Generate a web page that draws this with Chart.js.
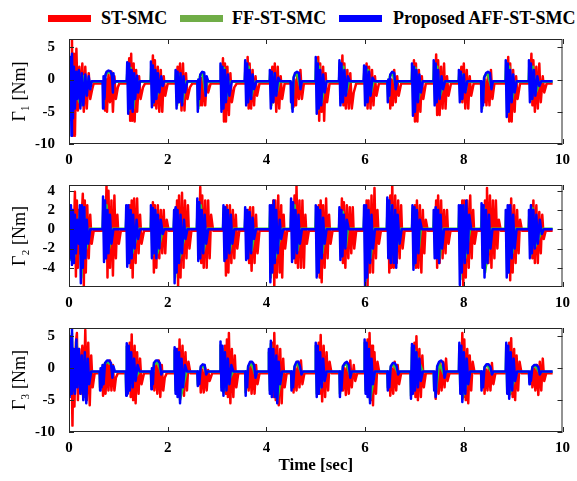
<!DOCTYPE html>
<html>
<head>
<meta charset="utf-8">
<script src="https://cdn.jsdelivr.net/npm/chart.js@4.4.1/dist/chart.umd.min.js"></script>
<style>
  body { margin: 0; background: #fff; }
  #wrap { position: relative; width: 577px; height: 481px; overflow: hidden; font-family: "Liberation Serif", "Times New Roman", serif; }
  #wrap canvas { position: absolute; left: 0; top: 0; }
  .key { position: absolute; top: 15px; width: 43px; height: 7px; }
  .lab { position: absolute; top: 7px; font-weight: bold; font-size: 18px; line-height: 22px; white-space: nowrap; color: #000; }
</style>
</head>
<body>
<div id="wrap">
  <span class="key" style="left:48px;background:#ff0000"></span><span class="lab" style="left:101px">ST-SMC</span>
  <span class="key" style="left:180px;background:#70ad47"></span><span class="lab" style="left:232px">FF-ST-SMC</span>
  <span class="key" style="left:339px;background:#0000ff"></span><span class="lab" style="left:393px">Proposed AFF-ST-SMC</span>
  <canvas id="c1" width="577" height="481"></canvas>
  <canvas id="c2" width="577" height="481"></canvas>
  <canvas id="c3" width="577" height="481"></canvas>
</div>
<script>
// tick labels
const timeTicks = [0, 2, 4, 6, 8, 10];
const g1Ticks = [-10, -5, 0, 5];
const g2Ticks = [-4, -2, 0, 2, 4];
const g3Ticks = [-10, -5, 0, 5];

// [time sec, torque Nm]
const p1Blue = [[0,-0.3],[0.01,2.5],[0.02,-4],[0.03,3.5],[0.05,-8.7],[0.06,4],[0.08,-6],[0.1,2],[0.12,-4.5],[0.15,1.2],[0.17,-3],[0.2,1.5],[0.23,-4.5],[0.26,1],[0.29,-4],[0.33,0.8],[0.36,-2.5],[0.4,0.5],[0.43,-1.5],[0.46,-0.25],
[0.68,-0.25],[0.69,-4.5],[0.7,0.5],[0.72,-3],[0.74,0.8],[0.76,1.2],[0.8,1.4],[0.84,1.3],[0.87,0.6],[0.89,-2],[0.9,1],[0.92,-0.5],[0.95,-0.25],
[1.17,-0.25],[1.18,2.7],[1.2,-5.3],[1.22,2.5],[1.24,-4.5],[1.27,1.5],[1.29,-5],[1.32,1],[1.34,-3],[1.38,0.6],[1.4,-2],[1.44,-0.25],
[1.65,-0.25],[1.66,2.8],[1.68,-4.3],[1.7,2.2],[1.72,-3.5],[1.75,1.5],[1.77,-3],[1.8,1],[1.83,-2],[1.87,0.5],[1.9,-1],[1.93,-0.25],
[2.15,-0.25],[2.16,1.5],[2.18,-4.5],[2.2,1.2],[2.23,-3.5],[2.26,1],[2.29,-4],[2.32,0.5],[2.35,-2],[2.4,-0.25],
[2.6,-0.25],[2.61,-5],[2.62,0],[2.64,-3],[2.66,0.8],[2.7,1.2],[2.74,1.1],[2.77,-2.5],[2.79,0.5],[2.82,-0.25],
[3.06,-0.25],[3.07,2.5],[3.09,-5],[3.11,2],[3.13,-4.5],[3.16,1.5],[3.18,-3.5],[3.22,0.8],[3.25,-2.5],[3.3,-0.25],
[3.56,-0.25],[3.57,3],[3.59,-4],[3.61,2.5],[3.63,-3.5],[3.66,1.5],[3.69,-3],[3.72,0.8],[3.75,-1.5],[3.8,-0.25],
[4.06,-0.25],[4.07,1.5],[4.09,-4.5],[4.11,1.2],[4.14,-3.5],[4.17,1],[4.2,-2.5],[4.24,0.3],[4.28,-0.25],
[4.49,-0.25],[4.5,-3.5],[4.51,-0.5],[4.53,-5],[4.55,0.3],[4.58,1],[4.62,1.2],[4.66,1],[4.69,-1.5],[4.72,-0.25],
[4.99,-0.25],[5.0,3.5],[5.02,-5.3],[5.04,2.5],[5.06,-4.5],[5.09,1.5],[5.11,-4],[5.15,0.8],[5.18,-2],[5.22,-0.25],
[5.47,-0.25],[5.48,3],[5.5,-4],[5.52,2.5],[5.55,-3.5],[5.58,1.5],[5.61,-2.5],[5.65,0.5],[5.69,-0.25],
[5.97,-0.25],[5.98,2.2],[6.0,-4],[6.02,2],[6.05,-3.5],[6.08,1.2],[6.11,-2.5],[6.15,0.3],[6.19,-0.25],
[6.45,-0.25],[6.46,-3.5],[6.47,0],[6.49,-2.5],[6.51,0.8],[6.55,1.2],[6.59,1],[6.62,-1.5],[6.65,-0.25],
[6.94,-0.25],[6.95,2.5],[6.97,-5.6],[6.99,2],[7.01,-5],[7.04,1.5],[7.07,-3.5],[7.1,0.8],[7.13,-2],[7.17,-0.25],
[7.38,-0.25],[7.39,3],[7.41,-4],[7.43,2.5],[7.45,-3.5],[7.48,1.5],[7.51,-3],[7.55,0.5],[7.58,-1.5],[7.62,-0.25],
[7.89,-0.25],[7.9,1.5],[7.92,-3.5],[7.94,1.2],[7.97,-3],[8.0,0.8],[8.03,-2],[8.07,-0.25],
[8.35,-0.25],[8.36,-5],[8.37,-0.5],[8.39,-4],[8.41,0.3],[8.45,1],[8.49,1.2],[8.53,1],[8.56,-1.5],[8.59,-0.25],
[8.84,-0.25],[8.85,3],[8.87,-5.8],[8.89,2.5],[8.91,-5],[8.94,1.5],[8.97,-3.5],[9.0,0.8],[9.03,-2],[9.07,-0.25],
[9.31,-0.25],[9.32,3],[9.34,-3.5],[9.36,2.5],[9.39,-3],[9.42,1.5],[9.45,-2.5],[9.49,0.5],[9.53,-1],[9.57,-0.25],[9.8,-0.25]];

const p1Red = [[0,-0.6],[0.05,-0.6],[0.06,6.3],[0.08,-8.7],[0.1,4],[0.12,-8.7],[0.15,4.8],[0.18,-4.8],[0.21,2],[0.24,-3.5],[0.27,2.5],[0.3,-5],[0.33,2],[0.36,-4.5],[0.4,1],[0.43,-3],[0.47,-1.5],[0.5,-0.6],
[0.72,-0.6],[0.73,-4.8],[0.75,0],[0.77,-5],[0.8,0.8],[0.83,-3.5],[0.86,1.2],[0.89,-5],[0.92,0.5],[0.95,-3],[0.99,-1.2],[1.02,-0.6],
[1.2,-0.6],[1.22,3.3],[1.24,-6.4],[1.26,4],[1.28,-6.4],[1.31,2.5],[1.33,-6.5],[1.36,1.5],[1.38,-5],[1.42,0.5],[1.45,-3],[1.5,-1.2],[1.54,-0.6],
[1.68,-0.6],[1.7,3.75],[1.72,-4],[1.74,3],[1.77,-4.5],[1.8,2],[1.83,-5],[1.86,1.5],[1.89,-5],[1.92,0.5],[1.95,-2.5],[2.0,-0.6],
[2.18,-0.6],[2.2,2],[2.22,-3.5],[2.25,2.5],[2.28,-4.8],[2.31,2.5],[2.34,-4.8],[2.37,1],[2.4,-3],[2.45,-1.2],[2.5,-0.6],
[2.64,-0.6],[2.65,-4],[2.67,0.3],[2.7,-4],[2.73,0.5],[2.76,-4],[2.79,0],[2.82,-2],[2.87,-0.6],
[3.1,-0.6],[3.12,3.3],[3.14,-6.5],[3.16,2.5],[3.18,-6.5],[3.21,2],[3.24,-5.5],[3.27,1],[3.3,-3.5],[3.35,-1.2],[3.4,-0.6],
[3.6,-0.6],[3.62,3.5],[3.64,-4.5],[3.66,2.5],[3.69,-4.5],[3.72,1.5],[3.75,-4],[3.78,0.5],[3.81,-2.5],[3.86,-0.6],
[4.1,-0.6],[4.12,2],[4.14,-3.5],[4.17,2.5],[4.2,-5],[4.23,2],[4.26,-4.5],[4.29,0.5],[4.32,-3],[4.37,-0.6],
[4.54,-0.6],[4.55,-4.2],[4.57,0],[4.6,-4],[4.63,1],[4.66,-3],[4.69,1.5],[4.72,-3],[4.76,-0.6],
[5.03,-0.6],[5.05,3.5],[5.07,-6.4],[5.09,2.5],[5.12,-5],[5.15,2],[5.17,-6.4],[5.2,1],[5.23,-3.5],[5.28,-0.6],
[5.52,-0.6],[5.54,3.75],[5.56,-4],[5.58,2.5],[5.61,-4.5],[5.64,1.5],[5.67,-4.5],[5.7,1],[5.73,-4.5],[5.77,-2],[5.82,-0.6],
[6.01,-0.6],[6.03,2.5],[6.05,-4.5],[6.08,2],[6.11,-4.5],[6.14,1.5],[6.17,-4],[6.2,0.5],[6.23,-2.5],[6.28,-0.6],
[6.5,-0.6],[6.51,-4.5],[6.53,0],[6.56,-4],[6.59,1.5],[6.62,-3.5],[6.65,0.5],[6.68,-2.5],[6.73,-0.6],
[6.97,-0.6],[6.99,3],[7.01,-6.5],[7.03,2.5],[7.06,-6.5],[7.09,1.5],[7.12,-5],[7.15,0.5],[7.18,-3],[7.23,-0.6],
[7.42,-0.6],[7.44,3.9],[7.46,-5.5],[7.48,3],[7.51,-5.5],[7.54,2],[7.57,-4.5],[7.6,2.5],[7.63,-4.5],[7.66,0.5],[7.69,-2.5],[7.74,-0.6],
[7.93,-0.6],[7.95,2],[7.97,-3.5],[8.0,2.5],[8.03,-4.5],[8.06,1.5],[8.09,-4.5],[8.12,0.5],[8.15,-2.5],[8.2,-0.6],
[8.4,-0.6],[8.41,-3.5],[8.43,0],[8.46,-4],[8.49,0.8],[8.52,-4],[8.55,1.5],[8.58,-3],[8.62,-0.6],
[8.88,-0.6],[8.9,3.5],[8.92,-6.5],[8.94,2.5],[8.97,-6.5],[9.0,1.5],[9.03,-5],[9.06,0.5],[9.09,-3],[9.14,-0.6],
[9.35,-0.6],[9.37,4],[9.39,-4],[9.41,3],[9.44,-5],[9.47,2],[9.5,-4.5],[9.53,2.5],[9.56,-3.5],[9.6,0.5],[9.63,-2],[9.68,-0.6],[9.8,-0.6]];

const p1Green = [[0,-0.35],[0.01,2],[0.03,-6],[0.05,3],[0.08,-4],[0.13,1],[0.16,-2.5],[0.24,-4],[0.3,0.5],[0.4,-0.35],
[0.69,-0.35],[0.7,-4],[0.73,0.5],[0.79,1.2],[0.86,1],[0.9,-0.35],
[1.17,-0.35],[1.19,2.2],[1.21,-4.8],[1.25,1.8],[1.3,-4.5],[1.36,-0.35],
[1.65,-0.35],[1.67,2.3],[1.69,-3.8],[1.73,1.5],[1.78,-2.5],[1.85,-0.35],
[2.15,-0.35],[2.17,1.2],[2.19,-4],[2.24,0.8],[2.3,-3.5],[2.36,-0.35],
[2.6,-0.35],[2.62,-4.5],[2.65,0.5],[2.71,1],[2.76,-2],[2.8,-0.35],
[3.06,-0.35],[3.08,2.2],[3.1,-4.5],[3.14,1.8],[3.19,-3],[3.26,-0.35],
[3.56,-0.35],[3.58,2.6],[3.6,-3.6],[3.64,2],[3.7,-2.5],[3.76,-0.35],
[4.06,-0.35],[4.08,1.2],[4.1,-4],[4.15,0.8],[4.21,-2],[4.26,-0.35],
[4.5,-0.35],[4.52,-4.5],[4.56,0.5],[4.62,1],[4.68,-1],[4.71,-0.35],
[4.99,-0.35],[5.01,3],[5.03,-4.8],[5.07,2],[5.12,-3.5],[5.19,-0.35],
[5.47,-0.35],[5.49,2.6],[5.51,-3.6],[5.56,2],[5.62,-2],[5.67,-0.35],
[5.97,-0.35],[5.99,2],[6.01,-3.6],[6.06,1.5],[6.12,-2],[6.17,-0.35],
[6.45,-0.35],[6.47,-3],[6.5,0.5],[6.56,1],[6.62,-1],[6.64,-0.35],
[6.94,-0.35],[6.96,2.2],[6.98,-5],[7.02,1.8],[7.08,-3],[7.15,-0.35],
[7.38,-0.35],[7.4,2.6],[7.42,-3.6],[7.46,2],[7.52,-2.5],[7.6,-0.35],
[7.89,-0.35],[7.91,1.2],[7.93,-3.2],[7.98,0.8],[8.04,-1.8],[8.06,-0.35],
[8.35,-0.35],[8.37,-4.5],[8.42,0.5],[8.48,1],[8.55,-1],[8.58,-0.35],
[8.84,-0.35],[8.86,2.6],[8.88,-5.2],[8.92,2],[8.98,-3],[9.05,-0.35],
[9.31,-0.35],[9.33,2.6],[9.35,-3.2],[9.4,2],[9.46,-2],[9.55,-0.35],[9.8,-0.35]];

const p2Blue = [[0,0],[0.01,2.5],[0.02,-3],[0.04,2.5],[0.06,-3.7],[0.08,2],[0.1,-3.5],[0.12,1.5],[0.14,-2.5],[0.17,1],[0.2,-1.5],[0.22,2.5],[0.24,-5.6],[0.26,2.5],[0.28,-4],[0.31,2.3],[0.33,-3],[0.36,1],[0.39,-1.5],[0.43,0],
[0.68,0],[0.69,3.4],[0.71,-3.4],[0.73,3],[0.75,-3],[0.78,2],[0.8,-2.5],[0.83,1.5],[0.86,-1.5],[0.9,0],
[1.15,0],[1.16,2.5],[1.18,-3.9],[1.2,2.5],[1.22,-3.5],[1.25,2],[1.27,-3],[1.3,1.5],[1.33,-2],[1.37,1],[1.4,-1],[1.44,0],
[1.65,0],[1.66,2.5],[1.68,-3],[1.7,2.2],[1.72,-2.5],[1.75,2],[1.77,-3],[1.8,1.5],[1.83,-2],[1.86,1],[1.9,-0.5],[1.93,0],
[2.12,0],[2.13,2],[2.14,-5.6],[2.16,2.3],[2.18,-4.5],[2.2,2],[2.23,-3.5],[2.26,1.5],[2.29,-2.5],[2.33,1],[2.36,-1],[2.4,0],
[2.59,0],[2.6,3.2],[2.62,-3.3],[2.64,2.8],[2.66,-3],[2.69,2],[2.72,-2.5],[2.75,1.5],[2.78,-1.5],[2.82,0],
[3.12,0],[3.13,2.5],[3.15,-3.3],[3.17,2.3],[3.19,-3],[3.22,2],[3.25,-2.5],[3.28,1.5],[3.31,-1.5],[3.35,0],
[3.56,0],[3.57,2.3],[3.59,-3.2],[3.61,2],[3.63,-3],[3.66,1.8],[3.69,-2.5],[3.72,1.2],[3.75,-1],[3.79,0],
[4.06,0],[4.07,2.5],[4.08,-5.5],[4.1,2.5],[4.12,-4.5],[4.15,3],[4.17,-3.5],[4.2,2],[4.23,-2.5],[4.27,1],[4.3,-1],[4.34,0],
[4.49,0],[4.5,3.2],[4.52,-3.4],[4.54,2.8],[4.56,-3],[4.59,2],[4.62,-2.5],[4.65,1.5],[4.68,-1.5],[4.72,0],
[4.99,0],[5.0,2.5],[5.02,-5],[5.04,2.3],[5.06,-4.5],[5.09,2],[5.12,-3],[5.15,1.2],[5.18,-1.5],[5.22,0],
[5.47,0],[5.48,2.3],[5.5,-3.2],[5.52,2],[5.54,-2.8],[5.57,1.5],[5.6,-2],[5.63,1],[5.67,0],
[5.97,0],[5.98,2.5],[6.0,-6],[6.02,2.5],[6.04,-5],[6.07,2],[6.1,-3.5],[6.13,1.5],[6.16,-2],[6.2,0],
[6.44,0],[6.45,3.3],[6.47,-3],[6.49,3],[6.52,-3.5],[6.55,2.5],[6.58,-3.5],[6.61,2],[6.63,-4],[6.66,1.5],[6.7,-1.5],[6.74,0],
[6.95,0],[6.96,2.5],[6.98,-4.2],[7.0,2.3],[7.02,-3.5],[7.05,2],[7.08,-2.5],[7.11,1],[7.15,0],
[7.38,0],[7.39,2],[7.41,-3],[7.43,2.3],[7.45,-3],[7.48,2],[7.5,-3.5],[7.53,1.5],[7.56,-2],[7.6,0],
[7.89,0],[7.9,2.5],[7.92,-5.8],[7.94,2.5],[7.96,-4.5],[7.99,2.5],[8.02,-3.5],[8.05,3],[8.08,-2.5],[8.11,1.5],[8.15,0],
[8.35,0],[8.36,2.7],[8.38,-4],[8.4,2.5],[8.42,-5],[8.45,2],[8.48,-3.5],[8.51,1.5],[8.54,-2],[8.58,0],
[8.84,0],[8.85,2],[8.87,-5],[8.89,2.5],[8.91,-4.5],[8.94,2.5],[8.97,-3],[9.0,1.5],[9.03,-2],[9.07,0],
[9.31,0],[9.32,2],[9.34,-3],[9.36,2.5],[9.38,-2.5],[9.41,2],[9.44,-2],[9.47,1.5],[9.5,-1.5],[9.54,1],[9.58,-0.5],[9.62,0],[9.8,0]];

const p2Red = [[0,-0.15],[0.1,-0.15],[0.12,3.9],[0.14,-4.9],[0.16,3],[0.18,-4],[0.2,2],[0.22,-2.5],[0.28,3.7],[0.3,-5.9],[0.32,3],[0.34,-4.5],[0.37,2.5],[0.4,-3],[0.43,1.5],[0.46,-1.5],[0.5,-0.15],
[0.74,-0.15],[0.76,4.6],[0.78,-5],[0.8,4],[0.83,-4],[0.86,3],[0.89,-4.8],[0.92,3.5],[0.95,-3],[0.98,1.5],[1.01,-1.5],[1.05,-0.15],
[1.21,-0.15],[1.23,2.5],[1.25,-4],[1.27,3],[1.29,-5],[1.32,3.2],[1.35,-3.5],[1.38,3.2],[1.41,-2.5],[1.44,1.5],[1.47,-1.5],[1.52,-0.15],
[1.68,-0.15],[1.7,2.8],[1.72,-4.5],[1.74,2.5],[1.77,-4],[1.8,2.5],[1.83,-3],[1.86,2],[1.89,-2.5],[1.92,2],[1.95,-2.5],[1.98,1],[2.02,-0.15],
[2.17,-0.15],[2.19,3],[2.21,-5.9],[2.23,3.5],[2.26,-5],[2.29,3.8],[2.32,-4],[2.35,3],[2.38,-3],[2.41,2.5],[2.44,-2],[2.48,-0.15],
[2.64,-0.15],[2.66,4.4],[2.68,-3.5],[2.7,3.5],[2.73,-4],[2.76,3],[2.79,-4],[2.82,3],[2.85,-3],[2.88,1.5],[2.92,-0.15],
[3.15,-0.15],[3.16,2],[3.18,-4.8],[3.2,2.5],[3.23,-4.5],[3.26,2.5],[3.29,-3.5],[3.32,2],[3.35,-3],[3.38,1.5],[3.41,-2],[3.45,-0.15],
[3.61,-0.15],[3.63,2],[3.65,-3.5],[3.67,2.3],[3.7,-4.3],[3.73,2.3],[3.76,-3.5],[3.79,1.5],[3.82,-2.5],[3.86,-0.15],
[4.12,-0.15],[4.14,3],[4.16,-6],[4.18,3],[4.21,-5],[4.24,3.5],[4.27,-4.5],[4.3,2.5],[4.32,-5],[4.35,1.5],[4.38,-2],[4.42,-0.15],
[4.55,-0.15],[4.57,3.5],[4.59,-3.5],[4.61,4.5],[4.64,-4],[4.67,3],[4.7,-4],[4.73,3],[4.76,-4],[4.79,1.5],[4.82,-1.5],[4.86,-0.15],
[5.04,-0.15],[5.06,2.5],[5.08,-5],[5.1,3],[5.12,-5.5],[5.15,2.5],[5.18,-4],[5.21,3.2],[5.24,-3],[5.27,1.5],[5.3,-1.5],[5.34,-0.15],
[5.51,-0.15],[5.53,3.2],[5.55,-3.5],[5.57,2.8],[5.6,-4],[5.63,2.5],[5.66,-3],[5.69,2.3],[5.72,-2.5],[5.75,2.3],[5.78,-2],[5.82,-0.15],
[6.02,-0.15],[6.03,3],[6.05,-6],[6.07,3],[6.1,-4.5],[6.13,3.5],[6.16,-4.5],[6.19,4.3],[6.22,-3],[6.25,2],[6.28,-1.5],[6.32,-0.15],
[6.48,-0.15],[6.49,-4.5],[6.51,3.5],[6.53,-4],[6.55,4.7],[6.58,-4],[6.61,3.5],[6.64,-3.5],[6.67,3],[6.7,-3],[6.73,2.5],[6.76,-2],[6.8,-0.15],
[6.99,-0.15],[7.01,2.5],[7.03,-4],[7.05,3],[7.08,-4],[7.11,2.5],[7.14,-4.5],[7.17,2],[7.2,-2.5],[7.23,1],[7.27,-0.15],
[7.42,-0.15],[7.44,3],[7.46,-4],[7.48,3.5],[7.51,-3.5],[7.54,3],[7.57,-3],[7.6,2],[7.63,-2.5],[7.66,2],[7.69,-1.5],[7.73,-0.15],
[7.95,-0.15],[7.97,3],[7.99,-6],[8.01,3],[8.04,-5],[8.07,3],[8.1,-4],[8.13,3.5],[8.16,-3],[8.19,2],[8.22,-1.5],[8.26,-0.15],
[8.41,-0.15],[8.43,3],[8.45,-3.5],[8.47,4.3],[8.5,-3.5],[8.53,3.5],[8.56,-4],[8.59,3],[8.62,-3],[8.65,3],[8.68,-2],[8.71,1],[8.75,-0.15],
[8.9,-0.15],[8.92,2.5],[8.94,-5.3],[8.96,3.2],[8.99,-4.5],[9.02,2.5],[9.05,-3.5],[9.08,2],[9.11,-2.5],[9.14,1],[9.18,-0.15],
[9.35,-0.15],[9.37,2.5],[9.39,-3],[9.41,3],[9.44,-3.5],[9.47,2.5],[9.5,-3.5],[9.53,1.8],[9.56,-2.5],[9.59,1.5],[9.62,-1],[9.66,-0.15],[9.8,-0.15]];

const p2Green = [[0,0.05],[0.01,2.2],[0.03,-3.2],[0.06,2],[0.1,-3],[0.23,2.2],[0.25,-5],[0.3,2],[0.35,-2],[0.42,0.05],
[0.68,0.05],[0.7,3],[0.72,-3],[0.76,2.5],[0.81,-2],[0.88,0.05],
[1.15,0.05],[1.17,2.2],[1.19,-3.5],[1.23,2],[1.28,-2.5],[1.42,0.05],
[1.65,0.05],[1.67,2.2],[1.69,-2.7],[1.74,1.8],[1.79,-2.5],[1.91,0.05],
[2.12,0.05],[2.14,2],[2.15,-5],[2.19,1.8],[2.24,-3],[2.38,0.05],
[2.59,0.05],[2.61,2.8],[2.63,-3],[2.67,2.5],[2.73,-2.2],[2.8,0.05],
[3.12,0.05],[3.14,2.2],[3.16,-3],[3.2,2],[3.26,-2.2],[3.33,0.05],
[3.56,0.05],[3.58,2],[3.6,-2.8],[3.64,1.8],[3.7,-2.2],[3.77,0.05],
[4.06,0.05],[4.08,2.2],[4.09,-5],[4.13,2.2],[4.18,-3],[4.32,0.05],
[4.49,0.05],[4.51,2.8],[4.53,-3],[4.57,2.5],[4.63,-2.2],[4.7,0.05],
[4.99,0.05],[5.01,2.2],[5.03,-4.5],[5.07,2],[5.13,-2.5],[5.2,0.05],
[5.47,0.05],[5.49,2],[5.51,-2.8],[5.55,1.8],[5.61,-1.8],[5.65,0.05],
[5.97,0.05],[5.99,2.2],[6.01,-5.3],[6.05,2],[6.11,-3],[6.18,0.05],
[6.44,0.05],[6.46,3],[6.48,-2.7],[6.53,2.5],[6.59,-3],[6.72,0.05],
[6.95,0.05],[6.97,2.2],[6.99,-3.7],[7.03,2],[7.09,-2],[7.13,0.05],
[7.38,0.05],[7.4,1.8],[7.42,-2.7],[7.46,2],[7.51,-3],[7.58,0.05],
[7.89,0.05],[7.91,2.2],[7.93,-5.2],[7.97,2.2],[8.03,-3],[8.13,0.05],
[8.35,0.05],[8.37,2.4],[8.39,-3.5],[8.41,2.2],[8.43,-4.5],[8.56,0.05],
[8.84,0.05],[8.86,1.8],[8.88,-4.5],[8.92,2.2],[8.98,-2.5],[9.05,0.05],
[9.31,0.05],[9.33,1.8],[9.35,-2.7],[9.39,2.2],[9.45,-1.8],[9.6,0.05],[9.8,0.05]];

const p3Blue = [[0,-0.5],[0.01,4],[0.02,-4.5],[0.03,5],[0.05,-4],[0.06,6.3],[0.08,-3.5],[0.1,3],[0.12,-4],[0.15,4.5],[0.17,-3],[0.2,3],[0.23,-4],[0.26,2],[0.29,-5],[0.32,2.5],[0.35,-5.5],[0.38,1.5],[0.41,-2.5],[0.45,-0.5],
[0.62,-0.5],[0.63,-3.5],[0.64,0],[0.66,-3],[0.68,0.5],[0.7,-2.5],[0.73,0.8],[0.77,1.2],[0.81,1.2],[0.85,0.8],[0.88,-1.5],[0.9,0.3],[0.93,-0.5],
[1.15,-0.5],[1.16,-4.3],[1.17,3.9],[1.19,-4],[1.21,3.5],[1.23,-3.5],[1.26,2.5],[1.29,-3],[1.32,1.5],[1.35,-2],[1.39,0.5],[1.43,-0.5],
[1.66,-0.5],[1.67,-3.3],[1.68,0],[1.7,-2.5],[1.72,0.8],[1.76,1.2],[1.8,1.2],[1.84,0.8],[1.87,-1],[1.9,-0.5],
[2.13,-0.5],[2.14,3.3],[2.16,-4],[2.18,3],[2.2,-4.5],[2.23,2.5],[2.25,-5.5],[2.28,1.5],[2.31,-3],[2.35,0.5],[2.39,-0.5],
[2.6,-0.5],[2.61,-2.8],[2.62,-0.5],[2.64,-2.5],[2.67,0.3],[2.71,0.6],[2.75,0.5],[2.78,-1],[2.81,-0.5],
[3.06,-0.5],[3.07,4.2],[3.09,-3.5],[3.11,3.5],[3.13,-4.3],[3.16,2.5],[3.19,-3.5],[3.22,1.5],[3.25,-2.5],[3.29,0.5],[3.33,-0.5],
[3.57,-0.5],[3.58,-4.3],[3.59,-0.5],[3.61,-3],[3.63,0.3],[3.67,1],[3.71,1],[3.75,0.5],[3.78,-1.5],[3.81,-0.5],
[4.04,-0.5],[4.05,3],[4.07,-4],[4.09,4.3],[4.11,-4.5],[4.14,3],[4.17,-4.5],[4.2,2],[4.22,-5.5],[4.25,1],[4.28,-2.5],[4.32,-0.5],
[4.5,-0.5],[4.51,-3.5],[4.52,-0.5],[4.54,-3],[4.57,0.3],[4.61,1],[4.65,1],[4.68,0.3],[4.71,-1],[4.74,-0.5],
[4.99,-0.5],[5.0,4],[5.02,-4.5],[5.04,3.5],[5.06,-4],[5.09,2.5],[5.12,-3],[5.15,1.5],[5.18,-2],[5.22,-0.5],
[5.48,-0.5],[5.49,-4.5],[5.5,-0.5],[5.52,-3.5],[5.55,0.3],[5.59,0.8],[5.63,1],[5.67,0.5],[5.7,-1.5],[5.73,-0.5],
[5.98,-0.5],[5.99,4.5],[6.01,-4],[6.03,4],[6.05,-4.5],[6.08,3],[6.1,-5.5],[6.13,1.5],[6.16,-2.5],[6.2,-0.5],
[6.45,-0.5],[6.46,-3.5],[6.47,-0.5],[6.49,-3],[6.52,0.3],[6.56,0.8],[6.6,0.8],[6.64,0.3],[6.67,-1],[6.7,-0.5],
[6.92,-0.5],[6.93,-4.8],[6.95,3.8],[6.97,-4],[6.99,3.5],[7.01,-3.5],[7.04,2.5],[7.07,-3],[7.1,1.5],[7.13,-2],[7.17,-0.5],
[7.39,-0.5],[7.4,-3.5],[7.41,-0.5],[7.43,-4.5],[7.46,0.3],[7.5,1],[7.54,1.2],[7.58,0.8],[7.61,-1.5],[7.64,-0.5],
[7.9,-0.5],[7.91,4],[7.93,-4],[7.95,3.5],[7.97,-5.3],[8.0,2.5],[8.03,-4],[8.06,1.5],[8.09,-2.5],[8.13,-0.5],
[8.35,-0.5],[8.36,-3.5],[8.37,-0.5],[8.39,-3],[8.42,0.2],[8.46,0.6],[8.5,0.6],[8.54,0.2],[8.57,-1],[8.6,-0.5],
[8.85,-0.5],[8.86,4],[8.88,-4],[8.9,3.5],[8.92,-4.8],[8.95,2.5],[8.98,-3.5],[9.01,1.5],[9.04,-2],[9.08,-0.5],
[9.32,-0.5],[9.33,-2.5],[9.34,-0.5],[9.36,-2],[9.39,0.2],[9.43,0.5],[9.47,0.5],[9.51,0.2],[9.54,-1],[9.57,-0.5],[9.8,-0.5]];

const p3Red = [[0,-0.8],[0.04,-0.8],[0.05,2],[0.07,-9],[0.09,3],[0.11,-6],[0.14,4],[0.16,5.5],[0.18,-5],[0.21,3],[0.24,-4],[0.27,3.5],[0.3,-4.5],[0.33,6],[0.36,-5],[0.39,4],[0.42,-5.8],[0.45,2],[0.48,-3],[0.52,-0.8],
[0.68,-0.8],[0.69,-4.3],[0.71,0.5],[0.74,-4],[0.77,1],[0.8,-3.5],[0.83,1.2],[0.86,-3.5],[0.89,0.5],[0.92,-3.5],[0.95,-1.5],[0.99,-0.8],
[1.21,-0.8],[1.23,4],[1.25,-4.5],[1.27,5.3],[1.3,-5],[1.33,3.5],[1.35,-5.5],[1.38,2.5],[1.41,-4],[1.44,1.5],[1.47,-2.5],[1.52,-0.8],
[1.72,-0.8],[1.73,-3.5],[1.76,0.5],[1.79,-4],[1.82,1.2],[1.85,-4.5],[1.88,0.5],[1.91,-3.5],[1.94,-1.5],[1.98,-0.8],
[2.18,-0.8],[2.2,3],[2.22,-4],[2.24,4.5],[2.27,-4],[2.3,3.5],[2.33,-4.3],[2.36,2.5],[2.39,-3.5],[2.42,1],[2.46,-0.8],
[2.66,-0.8],[2.67,-3.8],[2.7,-0.2],[2.73,-3.8],[2.76,0],[2.79,-3.5],[2.82,-0.3],[2.85,-2],[2.9,-0.8],
[3.14,-0.8],[3.16,3.5],[3.18,-4],[3.2,4.5],[3.22,-4.5],[3.24,5.5],[3.27,-5.5],[3.3,3],[3.33,-4.5],[3.36,2],[3.39,-3],[3.43,-0.8],
[3.63,-0.8],[3.64,-3.5],[3.67,0.5],[3.7,-4],[3.73,0.8],[3.76,-4],[3.79,0.5],[3.82,-2.5],[3.86,-0.8],
[4.1,-0.8],[4.12,4],[4.14,-4.5],[4.16,5.5],[4.19,-5],[4.22,3.5],[4.25,-5.8],[4.28,3],[4.31,-5.5],[4.34,1.5],[4.37,-3],[4.41,-0.8],
[4.54,-0.8],[4.55,-3.8],[4.58,0],[4.61,-3.5],[4.64,1],[4.67,-3],[4.7,1.2],[4.73,-2.5],[4.77,-0.8],
[5.04,-0.8],[5.06,4],[5.08,-4],[5.1,5.2],[5.13,-5.2],[5.16,3.5],[5.19,-4.5],[5.22,2.5],[5.25,-3.5],[5.28,1],[5.32,-0.8],
[5.54,-0.8],[5.55,-3.5],[5.58,0],[5.61,-4.2],[5.64,0.8],[5.67,-4],[5.7,1.2],[5.73,-3],[5.77,0.5],[5.8,-2],[5.84,-0.8],
[6.03,-0.8],[6.05,4.5],[6.07,-4.5],[6.09,5.5],[6.12,-5],[6.14,3.5],[6.16,-5.8],[6.19,2.5],[6.22,-4],[6.25,1],[6.29,-0.8],
[6.5,-0.8],[6.51,-4.3],[6.54,0],[6.57,-4],[6.6,1],[6.63,-3.5],[6.66,0.5],[6.69,-2.5],[6.73,-0.8],
[6.98,-0.8],[7.0,4],[7.02,-4.5],[7.04,5],[7.07,-5],[7.1,3],[7.13,-4.5],[7.16,2],[7.19,-3],[7.23,-0.8],
[7.42,-0.8],[7.43,-4.8],[7.46,0],[7.49,-4],[7.52,0.8],[7.55,-3.5],[7.58,1],[7.61,-3],[7.64,1.5],[7.67,-2],[7.71,-0.8],
[7.95,-0.8],[7.97,5.5],[7.99,-4.5],[8.01,4.5],[8.04,-5],[8.07,3],[8.09,-5.5],[8.12,2],[8.15,-3.5],[8.18,1],[8.22,-0.8],
[8.41,-0.8],[8.42,-4],[8.45,-0.2],[8.48,-3.5],[8.51,0.5],[8.54,-3.5],[8.57,0.8],[8.6,-2.5],[8.64,-0.8],
[8.9,-0.8],[8.92,4],[8.94,-4],[8.96,4.7],[8.99,-4.5],[9.02,3],[9.04,-5],[9.07,2],[9.1,-3.5],[9.13,1],[9.17,-0.8],
[9.38,-0.8],[9.39,-3],[9.42,0],[9.45,-3.5],[9.48,0.5],[9.51,-4.2],[9.54,1],[9.57,-3.5],[9.6,1.5],[9.63,-2],[9.67,-0.8],[9.8,-0.8]];

const p3Green = [[0,-0.55],[0.01,3.5],[0.02,-4],[0.06,5.5],[0.08,-3],[0.15,4],[0.29,-4.5],[0.45,-0.55],
[0.62,-0.55],[0.63,-3],[0.68,0.3],[0.77,1],[0.85,0.6],[0.92,-0.55],
[1.15,-0.55],[1.16,-3.8],[1.17,3.4],[1.19,-3.5],[1.21,3],[1.26,-2.5],[1.42,-0.55],
[1.66,-0.55],[1.67,-2.8],[1.72,0.5],[1.8,1],[1.87,-0.8],[1.9,-0.55],
[2.13,-0.55],[2.14,2.8],[2.16,-3.5],[2.18,2.5],[2.25,-5],[2.38,-0.55],
[2.6,-0.55],[2.61,-2.5],[2.67,0.1],[2.73,0.4],[2.78,-0.8],[2.81,-0.55],
[3.06,-0.55],[3.07,3.6],[3.09,-3],[3.11,3],[3.13,-3.8],[3.32,-0.55],
[3.57,-0.55],[3.58,-3.8],[3.63,0.2],[3.7,0.8],[3.78,-1.2],[3.81,-0.55],
[4.04,-0.55],[4.05,2.5],[4.07,-3.5],[4.09,3.8],[4.22,-5],[4.32,-0.55],
[4.5,-0.55],[4.51,-3],[4.57,0.2],[4.63,0.8],[4.71,-0.8],[4.74,-0.55],
[4.99,-0.55],[5.0,3.5],[5.02,-4],[5.04,3],[5.06,-3.5],[5.22,-0.55],
[5.48,-0.55],[5.49,-4],[5.55,0.2],[5.62,0.8],[5.7,-1.2],[5.73,-0.55],
[5.98,-0.55],[5.99,4],[6.01,-3.5],[6.03,3.5],[6.1,-5],[6.2,-0.55],
[6.45,-0.55],[6.46,-3],[6.52,0.2],[6.58,0.6],[6.67,-0.8],[6.7,-0.55],
[6.92,-0.55],[6.93,-4.3],[6.95,3.3],[6.97,-3.5],[6.99,3],[7.17,-0.55],
[7.39,-0.55],[7.4,-3],[7.43,-4],[7.5,0.8],[7.61,-1.2],[7.64,-0.55],
[7.9,-0.55],[7.91,3.5],[7.93,-3.5],[7.95,3],[7.97,-4.8],[8.13,-0.55],
[8.35,-0.55],[8.36,-3],[8.42,0.1],[8.48,0.5],[8.57,-0.8],[8.6,-0.55],
[8.85,-0.55],[8.86,3.5],[8.88,-3.5],[8.9,3],[8.92,-4.3],[9.08,-0.55],
[9.32,-0.55],[9.33,-2.2],[9.39,0.1],[9.45,0.4],[9.54,-0.8],[9.57,-0.55],[9.8,-0.55]];

const serif = '"Liberation Serif", "Times New Roman", serif';
const tickFont = { family: serif, size: 15, weight: 'bold' };

// box round the plot area with inward tick marks (matlab style)
const framePlugin = {
    id: 'frame',
    afterDatasetsDraw(chart) {
        const { ctx, chartArea: a, scales } = chart;
        ctx.save();
        ctx.strokeStyle = '#262626';
        ctx.lineWidth = 1;
        ctx.strokeRect(a.left + 0.5, a.top + 0.5, a.right - a.left - 1, a.bottom - a.top - 1);
        ctx.beginPath();
        scales.x.ticks.forEach(t => {
            const px = Math.round(scales.x.getPixelForValue(t.value)) + 0.5;
            ctx.moveTo(px, a.bottom); ctx.lineTo(px, a.bottom - 5);
            ctx.moveTo(px, a.top); ctx.lineTo(px, a.top + 5);
        });
        scales.y.ticks.forEach(t => {
            const py = Math.round(scales.y.getPixelForValue(t.value)) + 0.5;
            ctx.moveTo(a.left, py); ctx.lineTo(a.left + 5, py);
            ctx.moveTo(a.right, py); ctx.lineTo(a.right - 5, py);
        });
        ctx.stroke();
        ctx.restore();
    }
};

function toXY(arr) {
    return arr.map(p => ({ x: p[0], y: p[1] }));
}

function makePanel(id, red, green, blue, yMin, yMax, yTicks, yTitle, padTop, padBottom, xHeight, xTitle) {
    return new Chart(document.getElementById(id), {
        type: 'line',
        data: {
            datasets: [
                { label: 'Proposed AFF-ST-SMC', data: toXY(blue), borderColor: '#0000ff' },
                { label: 'FF-ST-SMC', data: toXY(green), borderColor: '#33cc33' },
                { label: 'ST-SMC', data: toXY(red), borderColor: '#ff0000' }
            ]
        },
        options: {
            responsive: false,
            animation: false,
            events: [],
            layout: { padding: { top: padTop, left: 0, right: 10, bottom: padBottom } },
            elements: {
                point: { radius: 0 },
                line: { borderWidth: 2.5, tension: 0, borderJoinStyle: 'round', fill: false }
            },
            plugins: { legend: { display: false }, tooltip: { enabled: false } },
            scales: {
                x: {
                    type: 'linear', min: 0, max: 10,
                    grid: { display: false, drawTicks: false },
                    border: { display: false },
                    afterBuildTicks: s => { s.ticks = timeTicks.map(v => ({ value: v })); },
                    afterFit: s => { s.height = xHeight; },
                    ticks: { padding: 7, color: '#000', font: tickFont, maxRotation: 0, callback: v => v },
                    title: {
                        display: !!xTitle, text: xTitle || '', color: '#000',
                        font: { family: serif, size: 17, weight: 'bold' },
                        padding: { top: 0, bottom: 5 }
                    }
                },
                y: {
                    min: yMin, max: yMax,
                    grid: { display: false, drawTicks: false },
                    border: { display: false },
                    afterBuildTicks: s => { s.ticks = yTicks.map(v => ({ value: v })); },
                    afterFit: s => { s.width = 69; },
                    ticks: { padding: 14, color: '#000', font: tickFont, callback: v => v },
                    title: {
                        display: true, text: yTitle, color: '#000',
                        font: { family: serif, size: 18 },
                        padding: { top: 9, bottom: 0 }
                    }
                }
            }
        },
        plugins: [framePlugin]
    });
}

makePanel('c1', p1Red, p1Green, p1Blue, -10, 6.3, g1Ticks, 'Γ₁ [Nm]', 39, 311, 26, null);
makePanel('c2', p2Red, p2Green, p2Blue, -6, 4.6, g2Ticks, 'Γ₂ [Nm]', 185, 168, 26, null);
makePanel('c3', p3Red, p3Green, p3Blue, -10, 6.3, g3Ticks, 'Γ₃ [Nm]', 328, 0, 49, 'Time [sec]');
</script>
</body>
</html>
